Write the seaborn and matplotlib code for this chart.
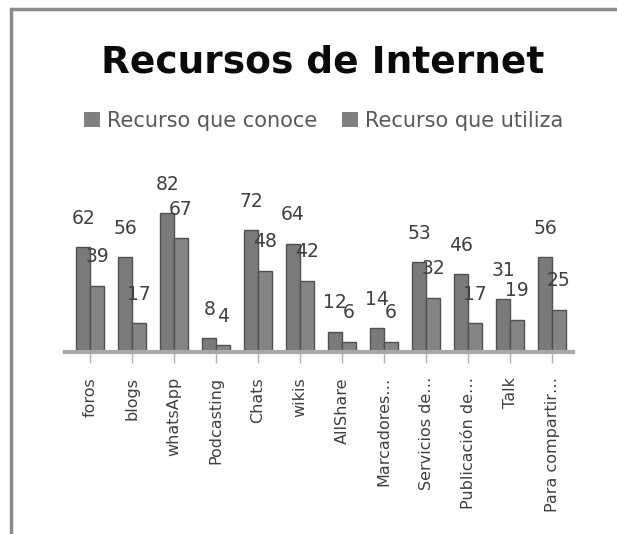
import seaborn as sns
import pandas as pd
import matplotlib.pyplot as plt
from matplotlib.lines import Line2D

recursos = ["foros", "blogs", "whatsApp", "Podcasting", "Chats", "wikis", "AllShare",
            "Marcadores…", "Servicios de…", "Publicación de…", "Talk", "Para compartir…"]
conoce = [62, 56, 82, 8, 72, 64, 12, 14, 53, 46, 31, 56]
utiliza = [39, 17, 67, 4, 48, 42, 6, 6, 32, 17, 19, 25]
series = ["Recurso que conoce", "Recurso que utiliza"]

data = pd.DataFrame({
    "Recurso": recursos * 2,
    "Valor": conoce + utiliza,
    "Serie": [series[0]] * len(recursos) + [series[1]] * len(recursos),
})

sns.set_theme(style="white")
plt.rcParams['font.family'] = ['DejaVu Sans']

fig = plt.figure(figsize=(6.17, 5.34), dpi=100)
ax = fig.add_axes([65 / 617, 182 / 534, 508 / 617, 152.5 / 534])

grises = ["#7a7a7a", "#858585"]
sns.barplot(data=data, x="Recurso", y="Valor", hue="Serie", palette=grises,
            width=0.66, saturation=1, edgecolor="#505050", linewidth=1, ax=ax)

for c in ax.containers:
    ax.bar_label(c, padding=14, fontsize=13.5, color="#404040")

ax.set_ylim(0, 90)
ax.set_xlim(-0.6, 11.5)
ax.set_xlabel("")
ax.set_ylabel("")
ax.set_yticks([])
sns.despine(ax=ax, left=True, top=True, right=True)
ax.spines["bottom"].set_color("#a8a8a8")
ax.spines["bottom"].set_linewidth(3)
ax.tick_params(axis="x", bottom=True, length=8, width=1, color="#b0b0b0",
               labelsize=11.5, labelcolor="#404040", rotation=90, pad=10)

sns.move_legend(ax, "center", bbox_to_anchor=(0.525, 1 - 121 / 534),
                bbox_transform=fig.transFigure, ncol=2, frameon=False, title=None,
                fontsize=15, handlelength=0.75, handleheight=0.75,
                handletextpad=0.35, columnspacing=1.2, labelcolor="#595959")
for h in ax.get_legend().legend_handles:
    h.set_edgecolor("none")
    h.set_facecolor("#7f7f7f")

fig.text(0.523, 1 - 62 / 534, "Recursos de Internet", ha="center", va="center",
         fontsize=27, fontweight="bold", color="#0a0a0a")

# borde del área del gráfico
fig.add_artist(Line2D([11 / 617, 11 / 617], [0, 1 - 9 / 534], color="#8a8a8a", lw=2.5))
fig.add_artist(Line2D([11 / 617, 1], [1 - 9 / 534, 1 - 9 / 534], color="#8a8a8a", lw=2.5))

plt.savefig("out.png", dpi=100)
